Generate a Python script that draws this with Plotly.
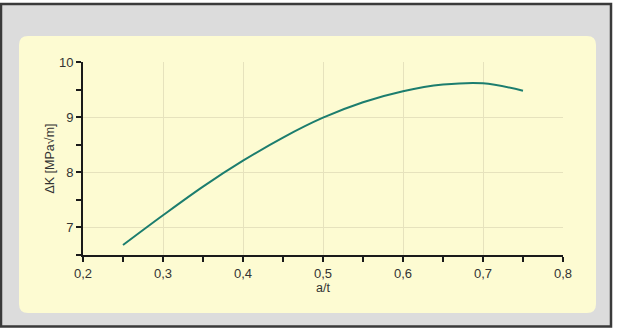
import plotly.graph_objects as go

a_t = [0.25, 0.30, 0.35, 0.40, 0.45, 0.50, 0.55, 0.60, 0.65, 0.70, 0.75]
delta_k = [6.68, 7.22, 7.74, 8.21, 8.63, 8.99, 9.27, 9.47, 9.59, 9.615, 9.48]

x_ticks = [0.2, 0.3, 0.4, 0.5, 0.6, 0.7, 0.8]
x_labels = ["0,2", "0,3", "0,4", "0,5", "0,6", "0,7", "0,8"]
y_ticks = [7, 8, 9, 10]
y_labels = ["7", "8", "9", "10"]

W, H = 620, 328
L, R, T, B = 83, 57, 62, 73
pw, ph = W - L - R, H - T - B


def px(x):
    return (x - L) / pw


def py(y):
    return (H - B - y) / ph


def rounded(x0, y0, x1, y1, r):
    X0, X1 = px(x0), px(x1)
    Y0, Y1 = py(y0), py(y1)
    rx, ry = r / pw, r / ph
    return (f"M {X0+rx},{Y0} L {X1-rx},{Y0} Q {X1},{Y0} {X1},{Y0-ry} "
            f"L {X1},{Y1+ry} Q {X1},{Y1} {X1-rx},{Y1} L {X0+rx},{Y1} "
            f"Q {X0},{Y1} {X0},{Y1+ry} L {X0},{Y0-ry} Q {X0},{Y0} {X0+rx},{Y0} Z")


fig = go.Figure()
fig.add_trace(go.Scatter(
    x=a_t, y=delta_k, mode="lines",
    line=dict(color="#1c7d6e", width=2, shape="spline", smoothing=1.0),
    hoverinfo="skip", showlegend=False,
))

font = dict(family="Liberation Sans, Arial, sans-serif", size=13, color="#333333")
tfont = dict(family="Liberation Sans Narrow, Liberation Sans, Arial, sans-serif",
             size=12.5, color="#333333")

fig.update_layout(
    width=W, height=H,
    margin=dict(l=L, r=R, t=T, b=B, pad=0),
    paper_bgcolor="white",
    plot_bgcolor="rgba(0,0,0,0)",
    font=font,
    shapes=[
        dict(type="rect", xref="paper", yref="paper", layer="below",
             x0=px(1), x1=px(611), y0=py(4), y1=py(326.5),
             fillcolor="#dcdcdc", line=dict(color="#3a3a3a", width=2.5)),
        dict(type="path", xref="paper", yref="paper", layer="below",
             path=rounded(19, 36, 596, 313, 9),
             fillcolor="#fdfbd2", line=dict(width=0)),
    ],
    xaxis=dict(
        range=[0.2, 0.8], tickvals=x_ticks, ticktext=x_labels,
        showline=True, linecolor="#1a1a1a", linewidth=2,
        ticks="outside", ticklen=5, tickwidth=2, tickcolor="#1a1a1a",
        showgrid=True, gridcolor="#e6e2bd", gridwidth=1,
        zeroline=False, tickfont=font,
        minor=dict(dtick=0.05, tick0=0.2, ticks="outside", ticklen=5,
                   tickwidth=2, tickcolor="#1a1a1a", showgrid=False),
        title=dict(text="a/t", font=tfont, standoff=1),
    ),
    yaxis=dict(
        range=[6.5, 10], tickvals=y_ticks, ticktext=y_labels,
        showline=True, linecolor="#1a1a1a", linewidth=2,
        ticks="outside", ticklen=5, tickwidth=2, tickcolor="#1a1a1a",
        showgrid=True, gridcolor="#e6e2bd", gridwidth=1,
        zeroline=False, tickfont=font,
        minor=dict(dtick=0.5, tick0=6.5, ticks="outside", ticklen=5,
                   tickwidth=2, tickcolor="#1a1a1a", showgrid=False),
        title=dict(text="ΔK [MPa√m]", font=tfont, standoff=2),
    ),
)

fig.write_html("out.html")
